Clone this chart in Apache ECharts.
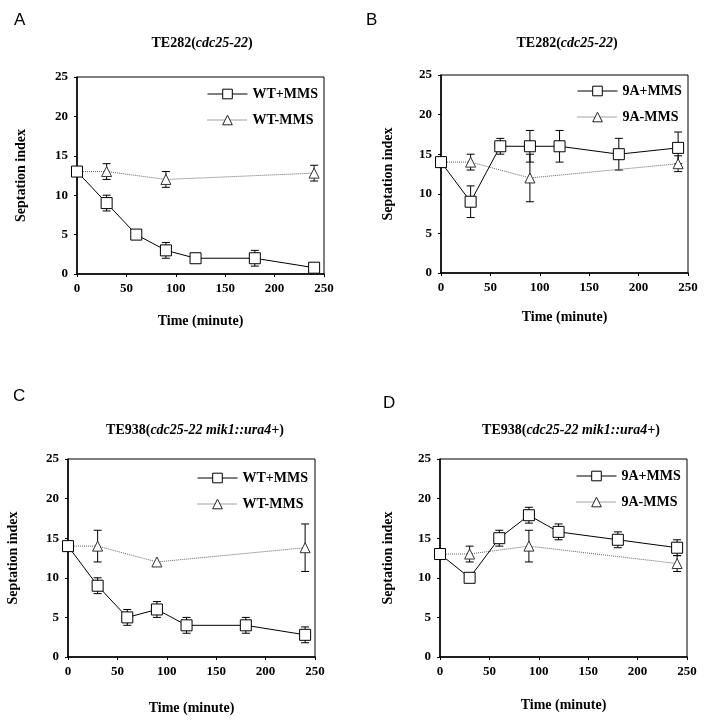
<!DOCTYPE html>
<html>
<head>
<meta charset="utf-8">
<script src="https://cdn.jsdelivr.net/npm/echarts@6/dist/echarts.min.js"></script>
<style>
html, body { margin: 0; padding: 0; background: #fff; }
#chart { width: 709px; height: 728px; }
</style>
</head>
<body>
<div id="chart"></div>
<script>
// time points (minute)
let timesPlus = [0, 30, 60, 90, 120, 180, 240];
let timesMinus = [0, 30, 90, 240];

// A : TE282, WT
let aPlus = [13, 9, 5, 3, 2, 2, 0.8];
let aPlusErr = [0, 1, 0, 1, 0, 1, 0.3];
let aMinus = [13, 13, 12, 12.8];
let aMinusErr = [0, 1, 1, 1];
// B : TE282, 9A
let bPlus = [14, 9, 16, 16, 16, 15, 15.8];
let bPlusErr = [0, 2, 1, 2, 2, 2, 2];
let bMinus = [14, 14, 12, 13.8];
let bMinusErr = [0, 1, 3, 1];
// C : TE938, WT
let cPlus = [14, 9, 5, 6, 4, 4, 2.8];
let cPlusErr = [0, 1, 1, 1, 1, 1, 1];
let cMinus = [14, 14, 12, 13.8];
let cMinusErr = [0, 2, 0, 3];
// D : TE938, 9A
let dPlus = [13, 10, 15, 17.9, 15.8, 14.8, 13.8];
let dPlusErr = [0, 0, 1, 1, 1, 1, 1];
let dMinus = [13, 13, 14, 11.8];
let dMinusErr = [0, 1, 2, 1];

let xTicks = [0, 50, 100, 150, 200, 250];
let yTicks = [0, 5, 10, 15, 20, 25];

const serif = 'Liberation Serif';

// panel layout
const panels = [
  { letter: 'A', lx: 14, ly: 12, grid: { left: 77, right: 385, top: 77, bottom: 454 },
    title: '{b|TE282(}{i|cdc25-22}{b|)}', tx: 197, ty: 31,
    legend: { left: 202, top: 82 }, yGap: 49, xGap: 40,
    names: ['WT+MMS', 'WT-MMS'], plus: aPlus, plusErr: aPlusErr, minus: aMinus, minusErr: aMinusErr },
  { letter: 'B', lx: 366, ly: 12, grid: { left: 441, right: 21, top: 75, bottom: 455 },
    title: '{b|TE282(}{i|cdc25-22}{b|)}', tx: 562, ty: 31,
    legend: { left: 572, top: 79 }, yGap: 46, xGap: 37,
    names: ['9A+MMS', '9A-MMS'], plus: bPlus, plusErr: bPlusErr, minus: bMinus, minusErr: bMinusErr },
  { letter: 'C', lx: 13, ly: 388, grid: { left: 68, right: 394, top: 459, bottom: 71 },
    title: '{b|TE938(}{i|cdc25-22 mik1::ura4+}{b|)}', tx: 190, ty: 418,
    legend: { left: 192, top: 466 }, yGap: 48, xGap: 44,
    names: ['WT+MMS', 'WT-MMS'], plus: cPlus, plusErr: cPlusErr, minus: cMinus, minusErr: cMinusErr },
  { letter: 'D', lx: 383, ly: 395, grid: { left: 440, right: 22, top: 459, bottom: 71 },
    title: '{b|TE938(}{i|cdc25-22 mik1::ura4+}{b|)}', tx: 566, ty: 418,
    legend: { left: 571, top: 464 }, yGap: 45, xGap: 41,
    names: ['9A+MMS', '9A-MMS'], plus: dPlus, plusErr: dPlusErr, minus: dMinus, minusErr: dMinusErr }
];

function pairs(xs, ys) {
  return xs.map(function (x, i) { return [x, ys[i]]; });
}
function errData(xs, ys, es) {
  let out = [];
  xs.forEach(function (x, i) {
    if (es[i] > 0) out.push([x, ys[i] - es[i], ys[i] + es[i]]);
  });
  return out;
}

function errorBars(params, api) {
  const x = api.value(0);
  const lo = api.coord([x, api.value(1)]);
  const hi = api.coord([x, api.value(2)]);
  const cap = 4;
  const st = { stroke: '#000', lineWidth: 1 };
  return {
    type: 'group',
    children: [
      { type: 'line', shape: { x1: lo[0], y1: lo[1], x2: hi[0], y2: hi[1] }, style: st },
      { type: 'line', shape: { x1: lo[0] - cap, y1: lo[1], x2: lo[0] + cap, y2: lo[1] }, style: st },
      { type: 'line', shape: { x1: hi[0] - cap, y1: hi[1], x2: hi[0] + cap, y2: hi[1] }, style: st }
    ]
  };
}

let grids = [], xAxes = [], yAxes = [], series = [], titles = [], legends = [], graphics = [];

panels.forEach(function (p, k) {
  grids.push(Object.assign({ show: true, borderColor: '#000', borderWidth: 1, backgroundColor: 'transparent' }, p.grid));
  xAxes.push({
    type: 'value', gridIndex: k, min: 0, max: 250, interval: 50,
    name: 'Time (minute)', nameLocation: 'middle', nameGap: p.xGap,
    nameTextStyle: { fontFamily: serif, fontWeight: 'bold', fontSize: 14, color: '#000' },
    axisLine: { lineStyle: { color: '#000', width: 1.5 } },
    axisTick: { length: 3, lineStyle: { color: '#000' } },
    axisLabel: { fontFamily: serif, fontWeight: 'bold', fontSize: 13, color: '#000', margin: 8 },
    splitLine: { show: false }
  });
  yAxes.push({
    type: 'value', gridIndex: k, min: 0, max: 25, interval: 5,
    name: 'Septation index', nameLocation: 'middle', nameGap: p.yGap, nameRotate: 90,
    nameTextStyle: { fontFamily: serif, fontWeight: 'bold', fontSize: 14, color: '#000' },
    axisLine: { show: true, lineStyle: { color: '#000', width: 1.5 } },
    axisTick: { show: true, length: 3, lineStyle: { color: '#000' } },
    axisLabel: { fontFamily: serif, fontWeight: 'bold', fontSize: 13, color: '#000', margin: 9 },
    splitLine: { show: false }
  });

  series.push({
    type: 'custom', xAxisIndex: k, yAxisIndex: k, z: 1, silent: true,
    renderItem: errorBars, data: errData(timesPlus, p.plus, p.plusErr)
  });
  series.push({
    type: 'custom', xAxisIndex: k, yAxisIndex: k, z: 1, silent: true,
    renderItem: errorBars, data: errData(timesMinus, p.minus, p.minusErr)
  });
  series.push({
    name: p.names[1], type: 'line', xAxisIndex: k, yAxisIndex: k, z: 3,
    data: pairs(timesMinus, p.minus),
    symbol: 'triangle', symbolSize: 10, showAllSymbol: true,
    lineStyle: { color: '#666', width: 1, type: 'dotted' },
    itemStyle: { color: '#fff', borderColor: '#333', borderWidth: 1 },
    animation: false
  });
  series.push({
    name: p.names[0], type: 'line', xAxisIndex: k, yAxisIndex: k, z: 4,
    data: pairs(timesPlus, p.plus),
    symbol: 'rect', symbolSize: 11, showAllSymbol: true,
    lineStyle: { color: '#000', width: 1 },
    itemStyle: { color: '#fff', borderColor: '#000', borderWidth: 1 },
    animation: false
  });

  legends.push({
    left: p.legend.left, top: p.legend.top, orient: 'vertical',
    data: [
      { name: p.names[0], lineStyle: { color: '#000', width: 1, type: 'solid' },
        itemStyle: { color: '#fff', borderColor: '#000', borderWidth: 1 } },
      { name: p.names[1], lineStyle: { color: '#444', width: 1, type: 'dotted' },
        itemStyle: { color: '#fff', borderColor: '#222', borderWidth: 1 } }
    ],
    itemWidth: 40, itemHeight: 12, itemGap: 12,
    selectedMode: false,
    textStyle: { fontFamily: serif, fontWeight: 'bold', fontSize: 14, color: '#000' }
  });

  titles.push({
    text: p.title, left: p.tx, top: p.ty, textAlign: 'center',
    textStyle: {
      rich: {
        b: { fontFamily: serif, fontWeight: 'bold', fontSize: 14, color: '#000' },
        i: { fontFamily: serif, fontWeight: 'bold', fontStyle: 'italic', fontSize: 14, color: '#000' }
      }
    }
  });

  graphics.push({
    type: 'text', left: p.lx, top: p.ly,
    style: { text: p.letter, font: '17px "Liberation Sans"', fill: '#000' }
  });
});

var myChart = echarts.init(document.getElementById('chart'));
option = {
  animation: false,
  backgroundColor: '#fff',
  title: titles,
  legend: legends,
  grid: grids,
  xAxis: xAxes,
  yAxis: yAxes,
  series: series,
  graphic: graphics
};
myChart.setOption(option);
</script>
</body>
</html>
